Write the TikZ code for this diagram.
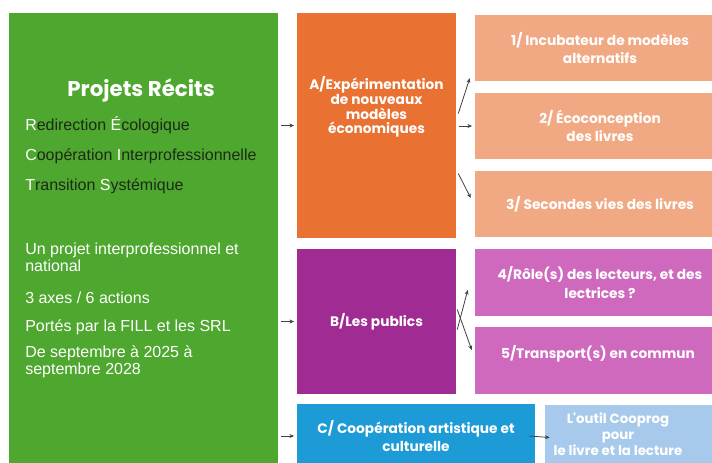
\documentclass[tikz,border=0pt]{standalone}
\usepackage{fontspec}
\setmainfont{Liberation Sans}
\newfontfamily\pop{Poppins}
\usetikzlibrary{arrows.meta,calc}
\definecolor{cG}{HTML}{4EA72E}
\definecolor{cA}{HTML}{E97132}
\definecolor{cAl}{HTML}{F1A983}
\definecolor{cB}{HTML}{A02B93}
\definecolor{cBl}{HTML}{CF69BE}
\definecolor{cC}{HTML}{1C9BD6}
\definecolor{cCl}{HTML}{A6C9EC}
\definecolor{dk}{HTML}{1E2A18}
\begin{document}
\begin{tikzpicture}[x=0.75pt,y=-0.75pt,
  box/.style={rectangle, draw=none, inner sep=0pt},
  btxt/.style={text=white, font=\pop\bfseries\fontsize{10.3}{11}\selectfont, align=center},
  wtxt/.style={text=white, font=\pop\bfseries\fontsize{10.3}{14}\selectfont, align=center},
  mtxt/.style={text=white, font=\pop\bfseries\fontsize{10.3}{13}\selectfont, align=center},
  ltxt/.style={text=white, font=\pop\bfseries\fontsize{10}{12}\selectfont, align=center, inner sep=0pt},
  gtxt/.style={anchor=west, text=white, inner sep=0pt, align=left, font=\fontsize{12}{13}\selectfont},
  rtxt/.style={anchor=west, text=dk, inner sep=0pt, font=\fontsize{12}{13}\selectfont},
  conn/.style={draw=black!75, line width=0.6pt, -{Stealth[length=3.5pt,width=3pt]}, shorten <=2pt, shorten >=2pt}]
\useasboundingbox (0,0) rectangle (712,462);
\clip (0,0) rectangle (712,462);
\fill[white] (0,0) rectangle (712,462);

% boxes
\node[box, fill=cG, minimum width={269*0.75pt}, minimum height={457*0.75pt}] (g) at (143.5,241.5) {};
\node[box, fill=cA, minimum width={159*0.75pt}, minimum height={225*0.75pt}] (A) at (376.5,125.5) {};
\node[box, fill=cAl, minimum width={250*0.75pt}, minimum height={66*0.75pt}, wtxt] (n1) at (600,48) {1/ Incubateur de modèles\\alternatifs};
\node[box, fill=cAl, minimum width={250*0.75pt}, minimum height={66*0.75pt}, wtxt] (n2) at (600,126) {2/ Écoconception\\des livres};
\node[box, fill=cAl, minimum width={250*0.75pt}, minimum height={66*0.75pt}, wtxt] (n3) at (600,204) {3/ Secondes vies des livres};
\node[box, fill=cB, minimum width={159*0.75pt}, minimum height={145*0.75pt}, btxt] (B) at (376.5,321.5) {B/Les publics};
\node[box, fill=cBl, minimum width={250*0.75pt}, minimum height={67*0.75pt}, wtxt] (n4) at (600,282.5) {4/Rôle(s) des lecteurs, et des\\lectrices ?};
\node[box, fill=cBl, minimum width={250*0.75pt}, minimum height={67*0.75pt}] (n5) at (600,360.5) {};
\node[box, fill=cC, minimum width={238*0.75pt}, minimum height={65*0.75pt}, mtxt] (C) at (416,436) {C/ Coopération artistique et\\culturelle};
\node[box, fill=cCl, minimum width={180*0.75pt}, minimum height={65*0.75pt}] (n6) at (635,437.5) {};

% separate texts
\node[btxt] (Atxt) at (376.5,107) {A/Expérimentation\\de nouveaux\\modèles\\économiques};
\node[btxt] (n5txt) at (598,354) {5/Transport(s) en commun};
\node[ltxt, anchor=north] (n6txt) at (618,413) {L'outil Cooprog\\pour\\le livre et la lecture};

% green texts
\node[text=white, font=\pop\bfseries\fontsize{16}{19}\selectfont] (title) at (141,90) {Projets Récits};
\node[rtxt] (r1) at (25,125) {{\color{white}R}edirection {\color{white}É}cologique};
\node[rtxt] (r2) at (25,156) {{\color{white}C}oopération {\color{white}I}nterprofessionnelle};
\node[rtxt] (r3) at (25,186) {{\color{white}T}ransition {\color{white}S}ystémique};
\node[gtxt] (t1) at (25,257) {Un projet interprofessionnel et\\national};
\node[gtxt] (t2) at (25,298) {3 axes / 6 actions};
\node[gtxt] (t3) at (25,327) {Portés par la FILL et les SRL};
\node[gtxt] (t4) at (25,362) {De septembre à 2025 à\\septembre 2028};

% connectors
\draw[conn] (g.east |- A.west) -- (A.west);
\draw[conn] (g.east |- B.west) -- (B.west);
\draw[conn] (g.east |- C.west) -- (C.west);
\draw[conn, shorten <=0pt, shorten >=0pt] ([shift={(2,-12)}]A.east) -- ([shift={(-5,-3)}]n1.south west);
\draw[conn] (A.east |- n2.west) -- (n2.west);
\draw[conn, shorten <=0pt, shorten >=0pt] ([shift={(2,48)}]A.east) -- ([shift={(-4,-6)}]n3.west);
\draw[conn, shorten <=0pt, shorten >=0pt] ([shift={(1,8)}]B.east) -- ([shift={(-7,7.5)}]n4.west);
\draw[conn, shorten <=0pt, shorten >=0pt] ([shift={(1,-12)}]B.east) -- ([shift={(-3,-10.5)}]n5.west);
\draw[conn, shorten <=0pt, shorten >=0pt] ([xshift={-6*0.75pt}]C.east) -- ([xshift={5*0.75pt}]n6.west);
\end{tikzpicture}
\end{document}
